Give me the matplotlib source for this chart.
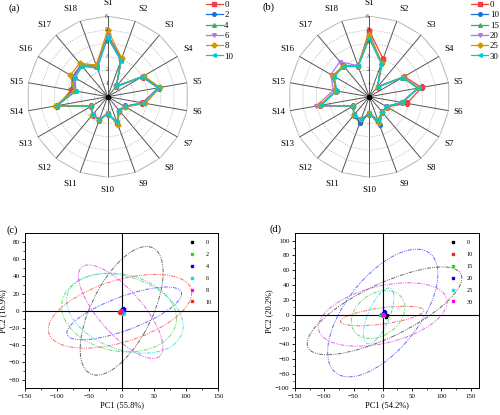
import numpy as np
import matplotlib
matplotlib.use("Agg")
import matplotlib.pyplot as plt
from matplotlib.patches import Ellipse
from matplotlib.lines import Line2D

plt.rcParams['font.family'] = ['Liberation Serif', 'DejaVu Serif']

# ---- radar data ----
spokes = ['S%d' % i for i in range(1, 19)]
r_ticks = [1, 2, 3, 4, 5, 6]

labels_a = ['0', '2', '4', '6', '8', '10']
a_0 = [4.6, 3.0, 1.0, 3.0, 3.9, 2.6, 1.45, 1.35, 2.1, 1.25, 1.85, 1.75, 1.4, 3.8, 2.75, 3.0, 3.1, 2.45]
a_2 = [4.5, 2.95, 1.0, 3.0, 3.85, 2.7, 1.45, 1.3, 2.05, 1.25, 1.8, 1.75, 1.4, 3.8, 2.6, 3.0, 3.05, 2.4]
a_4 = [4.4, 2.9, 1.0, 2.95, 3.8, 2.75, 1.5, 1.35, 2.0, 1.25, 1.85, 1.75, 1.4, 3.85, 2.45, 2.9, 3.0, 2.35]
a_6 = [4.5, 2.9, 1.0, 2.95, 3.8, 2.7, 1.45, 1.3, 2.05, 1.2, 1.8, 1.7, 1.4, 3.85, 2.45, 2.9, 3.05, 2.4]
a_8 = [4.95, 3.05, 1.0, 3.1, 3.95, 2.85, 1.5, 1.35, 2.2, 1.25, 1.85, 1.8, 1.45, 4.0, 2.55, 3.2, 3.25, 2.5]
a_10 = [4.4, 2.85, 1.0, 2.95, 3.8, 2.7, 1.45, 1.3, 2.0, 1.25, 1.85, 1.75, 1.4, 3.8, 2.4, 2.8, 2.95, 2.25]

labels_b = ['0', '10', '15', '20', '25', '30']
b_0 = [4.9, 3.0, 0.95, 3.0, 3.95, 2.85, 1.5, 1.5, 1.9, 1.25, 2.0, 1.75, 1.4, 3.7, 2.5, 3.1, 3.0, 2.45]
b_10 = [4.5, 2.7, 0.95, 2.9, 3.7, 2.5, 1.5, 1.5, 2.25, 1.25, 2.05, 1.8, 1.4, 3.7, 2.5, 3.1, 3.0, 2.45]
b_15 = [4.7, 2.65, 0.95, 2.85, 3.7, 2.45, 1.5, 1.5, 1.85, 1.25, 1.8, 1.75, 1.4, 3.7, 2.5, 3.1, 3.0, 2.45]
b_20 = [4.6, 2.7, 0.95, 2.9, 3.75, 2.45, 1.45, 1.5, 1.85, 1.2, 1.8, 1.75, 1.4, 4.05, 2.7, 3.3, 3.4, 2.45]
b_25 = [4.6, 2.7, 0.95, 2.9, 3.7, 2.45, 1.5, 1.5, 2.1, 1.25, 1.8, 1.75, 1.4, 3.75, 2.55, 3.1, 3.0, 2.45]
b_30 = [4.3, 2.6, 0.95, 2.85, 3.65, 2.45, 1.45, 1.5, 1.85, 1.25, 1.8, 1.75, 1.4, 3.65, 2.45, 3.0, 2.95, 2.4]

radar_colors = ['#F14040', '#1A6FDF', '#37AD6B', '#B177DE', '#CC9900', '#00CBCC']
radar_markers = ['s', 'o', '^', 'v', 'D', '<']

# ---- PCA data (score clusters + confidence ellipses) ----
c_colors = ['black', '#22dd22', '#0000ff', '#00e5e5', '#ff00ff', '#ff2020']
c_ell = ['#666666', '#66dd66', '#6666ff', '#55dddd', '#dd66dd', '#ff6666']
d_colors = ['black', '#ff2020', '#22dd22', '#0000ff', '#00e5e5', '#ff00ff']
d_ell = ['#666666', '#ff6666', '#66dd66', '#6666ff', '#55dddd', '#dd66dd']

c_x = [[1, 2, 0], [-3, -1, 0], [3, 4, 2], [2, 3, 4], [0, 1, -1], [-4, -2, -3]]
c_y = [[2, 0, 1], [-1, 0, -2], [2, 1, 3], [-4, -3, -2], [0, -1, 1], [-1, 0, -2]]
c_cx = [0, -4, 4, 5, -1.5, -2.5]
c_cy = [0, -2, -3, -3, -1, -0.5]
c_w = [177, 179, 184, 184, 160, 227]
c_h = [87, 90, 40, 86, 58, 73]
c_ang = [52, -6, 15, -12, -38, 12]

d_x = [[5, 7, 3], [-2, 2, 0], [-4, -2, -3], [2, 3, 1], [0, 1, -1], [-1, 1, 0]]
d_y = [[-3, -1, 0], [0, -1, 1], [0, -1, 1], [5, 3, 2], [-2, -1, 0], [-1, 0, 1]]
d_cx = [3, -1, -8, 0, -7, 0]
d_cy = [5, -2, 0, 2, -2, 0]
d_w = [280, 143, 95, 230, 85, 223]
d_h = [75, 22, 60, 112, 35, 78]
d_ang = [20, 6, 20, 41, 60, 10]

fig = plt.figure(figsize=(5, 4.15), dpi=100)


def radar(rect, series, labels):
    ax = fig.add_axes(rect, projection='polar')
    ax.set_theta_zero_location('N')
    ax.set_theta_direction(-1)
    ax.set_ylim(0, 6)
    ax.set_axis_off()
    th = np.linspace(0, 2 * np.pi, len(spokes), endpoint=False)
    thc = np.append(th, th[0])
    for r in r_ticks:
        if r == 6:
            ax.plot(thc, [r] * len(thc), color='#bbbbbb', lw=0.8)
        else:
            ax.plot(thc, [r] * len(thc), color='#bbbbbb', lw=0.6, ls=(0, (1.5, 1.5)))
    for t in th:
        ax.plot([t, t], [0, 6], color='#555555', lw=0.7)
    for r in r_ticks:
        ax.text(-0.02, r, str(r), fontsize=4.5, ha='center', va='center', color='#333333')
    for t, s in zip(th, spokes):
        sx, cy = np.sin(t), np.cos(t)
        ha = 'left' if sx > 0.15 else ('right' if sx < -0.15 else 'center')
        va = 'bottom' if cy > 0.3 else ('top' if cy < -0.3 else 'center')
        ax.text(t, 6.3 + 0.35 * abs(cy), s, fontsize=6.5, ha=ha, va=va)
    handles = []
    for vals, c, m, lab in zip(series, radar_colors, radar_markers, labels):
        v = np.append(vals, vals[0])
        h, = ax.plot(thc, v, color=c, lw=0.9, marker=m, ms=2.6, label=lab)
        handles.append(h)
    ax.plot([0], [0], 'o', color='black', ms=3)
    return ax, handles


ax_a, h_a = radar([0.054, 0.5725, 0.3228, 0.3889], [a_0, a_2, a_4, a_6, a_8, a_10], labels_a)
ax_b, h_b = radar([0.5772, 0.5725, 0.3228, 0.3889], [b_0, b_10, b_15, b_20, b_25, b_30], labels_b)

leg_kw = dict(frameon=False, fontsize=6.3, handlelength=1.9, labelspacing=0.25,
              handletextpad=0.2, borderpad=0.1, borderaxespad=0, loc='upper left')
fig.legend(handles=h_a, bbox_to_anchor=(0.41, 1.0), **leg_kw)
fig.legend(handles=h_b, bbox_to_anchor=(0.941, 1.0), **leg_kw)


def pca(rect, xs, ys, cx, cy, w, h, ang, labels, colors, ecolors, xlim, ylim, yticks, xlab, ylab):
    ax = fig.add_axes(rect)
    for i in range(len(labels)):
        ax.add_patch(Ellipse((cx[i], cy[i]), w[i], h[i], angle=ang[i], fill=False,
                             edgecolor=ecolors[i], lw=0.7,
                             ls=(0, (4, 1.2, 1, 1.2, 1, 1.2))))
    ax.axhline(0, color='black', lw=0.8)
    ax.axvline(0, color='black', lw=0.8)
    for i in range(len(labels)):
        ax.plot(xs[i], ys[i], 's', color=colors[i], ms=1.8, ls='none')
    handles = [Line2D([], [], marker='s', color=colors[i], ls='none', ms=1.8)
               for i in range(len(labels))]
    ax.legend(handles, labels, loc='upper right', frameon=False, fontsize=4.5,
              handletextpad=1.2, labelspacing=1.05, borderaxespad=0.6)
    ax.set_xlim(*xlim)
    ax.set_ylim(*ylim)
    ax.set_xticks([-150, -100, -50, 0, 50, 100, 150])
    ax.set_yticks(yticks)
    ax.set_xticks(np.arange(-150, 151, 25), minor=True)
    ax.set_yticks(np.arange(yticks[0], yticks[-1] + 1, 10), minor=True)
    ax.tick_params(labelsize=5, length=2.5, width=0.6, pad=1.5)
    ax.tick_params(which='minor', length=1.5, width=0.5)
    for s in ax.spines.values():
        s.set_linewidth(0.7)
    ax.set_xlabel(xlab, fontsize=6, labelpad=2)
    ax.set_ylabel(ylab, fontsize=6, labelpad=1)
    return ax


pca([0.05, 0.0643, 0.3866, 0.3735], c_x, c_y, c_cx, c_cy, c_w, c_h, c_ang, labels_a,
    c_colors, c_ell, (-150, 150), (-90, 90), list(range(-80, 81, 20)),
    'PC1 (55.8%)', 'PC2 (16.9%)')
pca([0.59, 0.0643, 0.3686, 0.3735], d_x, d_y, d_cx, d_cy, d_w, d_h, d_ang, labels_b,
    d_colors, d_ell, (-150, 165), (-100, 110), list(range(-100, 101, 20)),
    'PC1 (54.2%)', 'PC2 (20.2%)')

fig.text(0.017, 0.98, '(a)', fontsize=7.5, va='center')
fig.text(0.525, 0.982, '(b)', fontsize=7.5, va='center')
fig.text(0.013, 0.446, '(c)', fontsize=7.5, va='center')
fig.text(0.54, 0.448, '(d)', fontsize=7.5, va='center')

fig.savefig('out.png', dpi=100)
